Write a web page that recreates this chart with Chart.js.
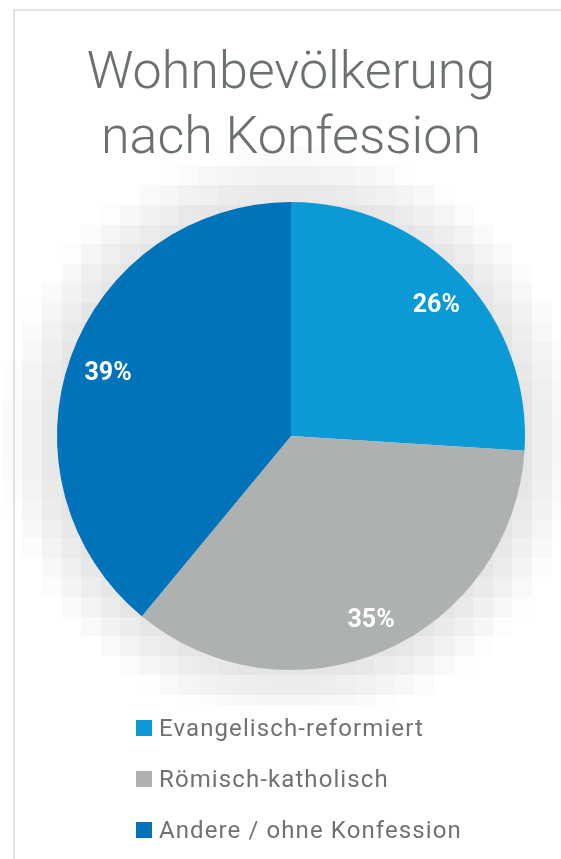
<!DOCTYPE html>
<html>
<head>
<meta charset="utf-8">
<script src="https://cdn.jsdelivr.net/npm/chart.js@4.4.1/dist/chart.umd.min.js"></script>
<style>
  html, body { margin: 0; padding: 0; background: #fff; width: 561px; height: 859px; overflow: hidden; }
  #frame { position: absolute; left: 13px; top: 9px; width: 560px; height: 860px;
           border-top: 2px solid #e2e2e2; border-left: 2px solid #e2e2e2; z-index: 3; pointer-events: none; }
  #title { position: absolute; left: 0; top: 38px; width: 582px; text-align: center;
           font-family: Roboto, sans-serif; font-weight: 300; font-size: 52px; line-height: 65px; color: #6b7170; z-index: 2; }
  #wrap { position: absolute; left: 0; top: 130px; width: 561px; height: 575px; z-index: 1; }
  #legend { position: absolute; left: 136px; top: 702px; z-index: 2; font-family: Roboto, sans-serif; }
  .row { height: 51px; display: flex; align-items: center; }
  .sw { width: 16px; height: 16px; margin-right: 7px; }
  .lt { font-size: 24px; letter-spacing: 1.1px; color: #6e7371; }
</style>
</head>
<body>
<div id="frame"></div>
<div id="title">Wohnbevölkerung<br>nach Konfession</div>
<div id="wrap"><canvas id="c" width="561" height="575"></canvas></div>
<div id="legend"></div>
<script>
const categories = ["Evangelisch-reformiert", "Römisch-katholisch", "Andere / ohne Konfession"];
const shares = [26, 35, 39];
const colors = ["#0b9ad6", "#adb1b0", "#0073bb"];

const shadowPlugin = {
  id: 'pixelShadow',
  beforeDatasetsDraw(chart) {
    const meta = chart.getDatasetMeta(0);
    if (!meta.data.length) return;
    const a = meta.data[0];
    const cx = a.x, cy = a.y, R = a.outerRadius;
    const ctx = chart.ctx;
    const B = 19.6, x0 = 2.8 - B, y0 = -3.4;
    ctx.save();
    for (let j = 0; y0 + j * B < chart.height; j++) {
      const ya = Math.round(y0 + j * B), yb = Math.round(y0 + (j + 1) * B);
      for (let i = 0; x0 + i * B < chart.width; i++) {
        const xa = Math.round(x0 + i * B), xb = Math.round(x0 + (i + 1) * B);
        const d = Math.hypot((xa + xb) / 2 - cx, (ya + yb) / 2 - cy) - R;
        const v = Math.round(Math.min(255, 229 + 0.47 * Math.max(0, d)));
        if (v >= 255) continue;
        ctx.fillStyle = `rgb(${v},${v},${v})`;
        ctx.fillRect(xa, ya, xb - xa, yb - ya);
      }
    }
    ctx.restore();
  }
};

const labelPlugin = {
  id: 'pctLabels',
  afterDatasetsDraw(chart) {
    const ctx = chart.ctx;
    const meta = chart.getDatasetMeta(0);
    ctx.save();
    ctx.fillStyle = '#ffffff';
    ctx.font = 'bold 25px Roboto, sans-serif';
    ctx.textAlign = 'center';
    ctx.textBaseline = 'middle';
    meta.data.forEach((arc, i) => {
      const p = arc.getProps(['x', 'y', 'startAngle', 'endAngle', 'outerRadius'], true);
      const mid = (p.startAngle + p.endAngle) / 2;
      const r = p.outerRadius * 0.84;
      ctx.fillText(shares[i] + '%', p.x + Math.cos(mid) * r + 2, p.y + Math.sin(mid) * r + 4);
    });
    ctx.restore();
  }
};

new Chart(document.getElementById('c'), {
  type: 'pie',
  data: {
    labels: categories,
    datasets: [{ data: shares, backgroundColor: colors, borderWidth: 0 }]
  },
  options: {
    responsive: false,
    animation: false,
    layout: { padding: { left: 57, right: 36, top: 72, bottom: 35 } },
    plugins: { legend: { display: false }, tooltip: { enabled: false }, title: { display: false } }
  },
  plugins: [shadowPlugin, labelPlugin]
});

const lg = document.getElementById('legend');
categories.forEach((c, i) => {
  const row = document.createElement('div');
  row.className = 'row';
  row.innerHTML = `<div class="sw" style="background:${colors[i]}"></div><div class="lt">${c}</div>`;
  lg.appendChild(row);
});
</script>
</body>
</html>
